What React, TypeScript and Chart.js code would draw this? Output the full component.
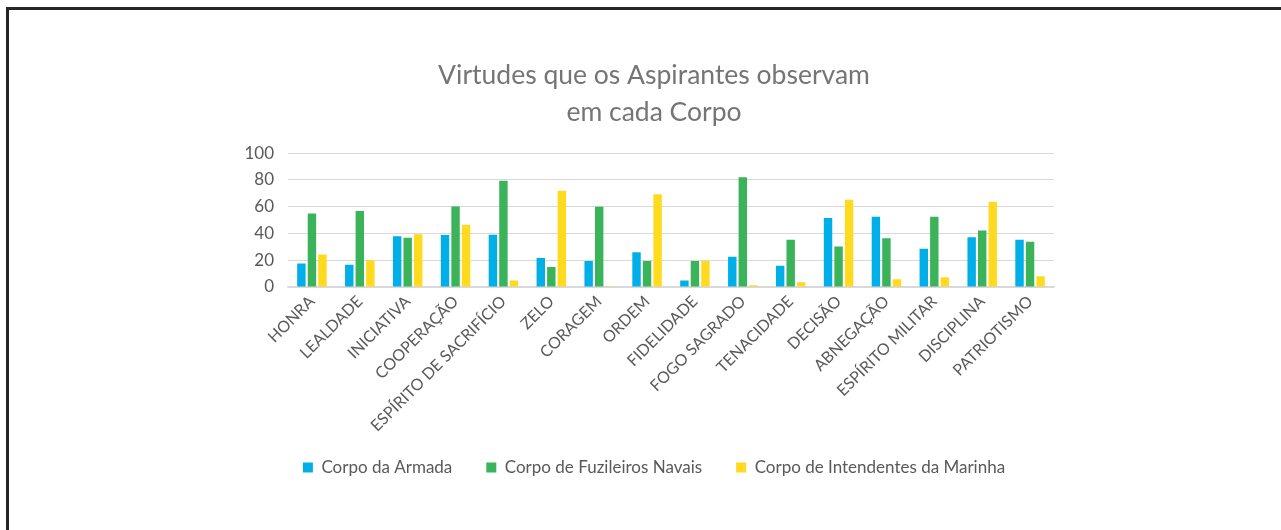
import React, { useEffect, useRef } from "react";
import { Chart, registerables } from "chart.js";

Chart.register(...registerables);

const categories = [
  "HONRA",
  "LEALDADE",
  "INICIATIVA",
  "COOPERAÇÃO",
  "ESPÍRITO DE SACRIFÍCIO",
  "ZELO",
  "CORAGEM",
  "ORDEM",
  "FIDELIDADE",
  "FOGO SAGRADO",
  "TENACIDADE",
  "DECISÃO",
  "ABNEGAÇÃO",
  "ESPÍRITO MILITAR",
  "DISCIPLINA",
  "PATRIOTISMO",
];

const armada = [17.5, 16.7, 37.9, 38.9, 39, 21.7, 19.4, 26, 4.8, 22.7, 15.9, 51.5, 52.5, 28.5, 37.1, 35.4];
const fuzileiros = [55, 56.8, 36.9, 60.1, 79.5, 14.9, 60, 19.4, 19.4, 82, 35.4, 30.3, 36.4, 52.5, 42.2, 33.8];
const intendentes = [24.2, 20, 39.4, 46.5, 4.8, 72, 0.5, 69.4, 19.4, 1.3, 3.5, 65.2, 5.8, 7.3, 63.6, 8.1];

const seriesNames = ["Corpo da Armada", "Corpo de Fuzileiros Navais", "Corpo de Intendentes da Marinha"];
const titleLines = ["Virtudes que os Aspirantes observam", "em cada Corpo"];
const yTicks = [0, 20, 40, 60, 80, 100];

const FONT = "Lato, 'Open Sans', sans-serif";

// Let tick labels overflow their scale boxes (as in the reference) instead of being clipped.
const noLabelClip = {
  id: "noLabelClip",
  beforeDraw(chart: any) {
    Object.values(chart.scales).forEach((s: any) => {
      s._computeLabelArea = () => undefined;
    });
  },
};

export default function App() {
  const ref = useRef<HTMLCanvasElement | null>(null);

  useEffect(() => {
    if (!ref.current) return;
    const mk = (label: string, data: number[], color: string) => ({
      label,
      data,
      backgroundColor: color,
      borderWidth: 0,
      categoryPercentage: 0.66,
      barPercentage: 0.8,
    });
    const chart = new Chart(ref.current, {
      type: "bar",
      data: {
        labels: categories,
        datasets: [
          mk(seriesNames[0], armada, "#00AEE8"),
          mk(seriesNames[1], fuzileiros, "#3AB35B"),
          mk(seriesNames[2], intendentes, "#FFDA1E"),
        ],
      },
      plugins: [noLabelClip],
      options: {
        animation: false,
        responsive: false,
        maintainAspectRatio: false,
        layout: { padding: { left: 254, right: 227, top: 0, bottom: 44 } },
        plugins: {
          title: {
            display: true,
            text: titleLines,
            color: "#757575",
            font: { family: FONT, size: 26.5, weight: "normal", lineHeight: 1.4 },
            padding: { top: 57, bottom: 22 },
          },
          legend: {
            position: "bottom",
            labels: {
              boxWidth: 10,
              boxHeight: 10,
              padding: 34,
              color: "#595959",
              font: { family: FONT, size: 17 },
            },
          },
          tooltip: { enabled: false },
        },
        scales: {
          x: {
            grid: { display: false, drawTicks: false },
            border: { display: true, color: "#D9D9D9", width: 1.5 },
            ticks: {
              autoSkip: false,
              maxRotation: 45,
              minRotation: 45,
              padding: 5,
              color: "#595959",
              font: { family: FONT, size: 16 },
            },
            afterFit: (scale: any) => {
              scale.height = 138;
            },
          },
          y: {
            min: 0,
            max: 100,
            afterBuildTicks: (scale: any) => {
              scale.ticks = yTicks.map((v) => ({ value: v }));
            },
            grid: { color: "#D9D9D9", lineWidth: 1, drawTicks: false },
            border: { display: false },
            ticks: {
              padding: 14,
              color: "#595959",
              font: { family: FONT, size: 17 },
            },
            afterFit: (scale: any) => {
              scale.width = 34;
            },
          },
        },
      },
    });
    return () => chart.destroy();
  }, []);

  return (
    <div style={{ position: "absolute", left: 0, top: 0, width: 1281, height: 530, background: "#fff" }}>
      <canvas ref={ref} width={1281} height={530} style={{ position: "absolute", left: 0, top: 0 }} />
      <div style={{ position: "absolute", left: 6, top: 7, width: 1275, height: 3, background: "#262626" }} />
      <div style={{ position: "absolute", left: 6, top: 7, width: 3, height: 523, background: "#262626" }} />
    </div>
  );
}
